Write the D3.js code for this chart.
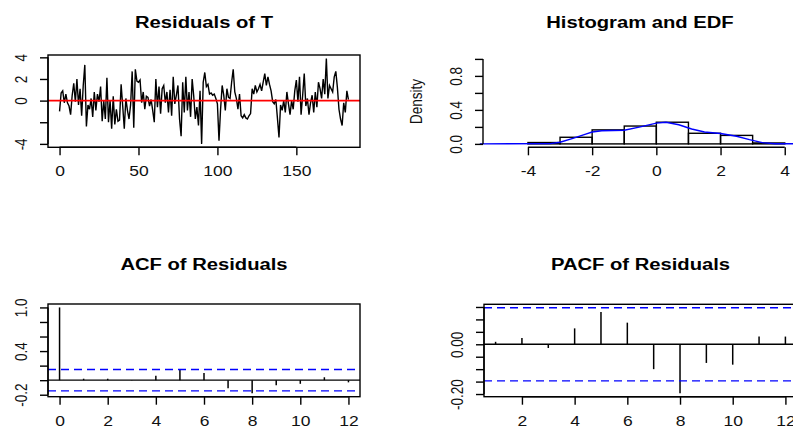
<!DOCTYPE html>
<html>
<head>
<meta charset="utf-8">
<script src="https://cdn.jsdelivr.net/npm/d3@7"></script>
<style>
  body { margin: 0; background: #fff; }
  svg { display: block; font-family: "Liberation Sans", Arial, sans-serif; }
</style>
</head>
<body>
<div id="chart"></div>
<script>
// residuals of T (index 0..183)
var residuals = [
  -1.0, 0.7, 0.9, -0.2, 0.6, -0.2, -0.5, -1.3, 0.5, 1.6,
  -0.1, 2.0, -0.4, 1.1, -1.4, 1.4, 3.3, -2.4, -0.4, -0.8,
  0.2, -1.5, 0.8, -0.9, 0.6, -0.1, 1.3, -1.9, 0.0, -1.7,
  2.1, -2.0, 0.0, -2.6, 0.4, -2.2, -0.8, -1.9, -1.8, 1.5,
  -0.5, -2.6, 0.2, -0.9, -1.7, -0.4, 2.7, -2.5, 2.9, 1.8,
  1.7, 1.9, -0.2, 0.8, -0.8, 0.4, 0.3, -0.5, 0.1, -0.9,
  -2.0, 2.0, -0.6, 1.3, -1.2, 1.1, 1.4, -0.2, 0.8, -1.1,
  1.0, -1.4, 2.2, -0.3, 0.5, 1.4, -1.7, -3.3, 1.7, -1.1,
  2.2, -0.9, 0.8, -1.5, 2.0, 0.4, -1.7, -0.6, -2.3, 0.9,
  -4.0, 1.7, 2.6, 1.3, 1.5, 0.6, 0.7, 0.5, 0.6, 0.2,
  -0.3, -3.7, -0.8, 1.4, 0.5, -0.9, 1.1, 0.3, 0.2, 1.7,
  2.9, 0.8, 0.2, -0.8, 0.6, -1.4, -1.6, -1.3, -1.6, -1.7,
  -1.4, -1.2, 1.1, 0.6, 1.4, 0.8, 1.1, 1.5, 0.9, 1.7,
  2.5, 1.4, 2.2, 1.5, 0.9, -0.1, -0.3, 0.1, -1.6, -3.4,
  -0.4, -0.9, 0.0, -1.1, 0.8, -0.3, -1.3, 0.0, -0.8, 0.9,
  1.9, -0.1, 2.2, -1.3, 0.5, 2.5, -0.5, 0.2, -1.3, -0.2,
  0.5, -1.1, 0.8, -0.6, 1.7, 1.1, 0.2, 2.0, 0.6, 3.9,
  0.2, 1.4, 1.1, 0.8, 2.2, 2.7, 1.2, -0.8, -1.7, -2.3,
  -0.2, -1.1, 0.9, 0.1
];
var resXTicks = [0, 50, 100, 150];
var resYTicks = [-4, -2, 0, 2, 4];
var resYLabels = ["-4", "", "0", "2", "4"];

// histogram (density scale) and smoothed density curve
var histBreaks = [-4, -3, -2, -1, 0, 1, 2, 3, 4];
var histDensity = [0.016, 0.078, 0.165, 0.21, 0.255, 0.125, 0.10, 0.011];
var densX = [-5.5, -3.3, -3.0, -2.6, -2.2, -2.0, -1.7, -1.0, -0.5, 0.0, 0.3, 0.7, 1.1, 1.5, 2.0, 2.5, 2.9, 3.3, 3.7, 4.7];
var densY = [0, 0.003, 0.02, 0.065, 0.115, 0.14, 0.155, 0.16, 0.2, 0.245, 0.255, 0.225, 0.175, 0.14, 0.122, 0.09, 0.05, 0.015, 0.002, 0];
var histXTicks = [-4, -2, 0, 2, 4];
var histYTicks = [0, 0.2, 0.4, 0.6, 0.8, 1.0];
var histYLabels = ["0.0", "", "0.4", "", "0.8", ""];

// ACF / PACF
var acfLags = [0, 1, 2, 3, 4, 5, 6, 7, 8, 9, 10, 11, 12];
var acfValues = [1.0, 0.02, 0.02, 0.003, 0.06, 0.14, 0.10, -0.11, -0.18, -0.07, -0.05, 0.04, -0.03];
var acfXTicks = [0, 2, 4, 6, 8, 10, 12];
var acfYTicks = [-0.2, 0, 0.2, 0.4, 0.6, 0.8, 1.0];
var acfYLabels = ["-0.2", "", "", "0.4", "", "", "1.0"];

var pacfLags = [1, 2, 3, 4, 5, 6, 7, 8, 9, 10, 11, 12];
var pacfValues = [0.01, 0.025, -0.015, 0.064, 0.13, 0.087, -0.10, -0.197, -0.075, -0.082, 0.031, 0.031];
var pacfXTicks = [2, 4, 6, 8, 10, 12];
var pacfYTicks = [-0.2, -0.15, -0.1, -0.05, 0, 0.05, 0.1, 0.15];
var pacfYLabels = ["-0.20", "", "", "", "0.00", "", "", ""];

var confLimit = 0.147;

var W = 793, H = 430;
var SX = 1.25; // the picture is stretched sideways
var LW = 1.4;
var svg = d3.select("#chart").append("svg").attr("width", W).attr("height", H);
svg.append("rect").attr("width", W).attr("height", H).attr("fill", "#fff");

function pad(ext) { var d = (ext[1] - ext[0]) * 0.04; return [ext[0] - d, ext[1] + d]; }

function title(x, y, str) {
  svg.append("text")
    .attr("transform", "translate(" + x + "," + y + ") scale(1.28,1)")
    .attr("text-anchor", "middle").attr("dominant-baseline", "central")
    .style("font-size", "15.8px").style("font-weight", "bold").attr("fill", "#000")
    .text(str);
}

function bottomAxis(scale, ticks, labels, y) {
  var a = svg.append("g").attr("transform", "translate(0," + y + ")")
    .call(d3.axisBottom(scale).tickValues(ticks).tickSize(8).tickFormat(function(d, i) { return labels[i]; }));
  a.select(".domain").remove();
  a.selectAll("line").attr("stroke", "#000").attr("stroke-width", LW);
  a.append("line").attr("x1", scale(ticks[0])).attr("x2", scale(ticks[ticks.length - 1]))
    .attr("stroke", "#000").attr("stroke-width", LW);
  a.selectAll("text").attr("y", null).attr("dy", null)
    .attr("transform", "translate(0,24) scale(" + SX + ",1)")
    .attr("dominant-baseline", "central").attr("fill", "#111")
    .style("font-size", "14px").style("font-family", "Liberation Sans, Arial, sans-serif");
}

function leftAxis(scale, ticks, labels, x) {
  var a = svg.append("g").attr("transform", "translate(" + x + ",0)")
    .call(d3.axisLeft(scale).tickValues(ticks).tickSize(8).tickFormat(function(d, i) { return labels[i]; }));
  a.select(".domain").remove();
  a.selectAll("line").attr("stroke", "#000").attr("stroke-width", LW);
  a.append("line").attr("y1", scale(ticks[0])).attr("y2", scale(ticks[ticks.length - 1]))
    .attr("stroke", "#000").attr("stroke-width", LW);
  a.selectAll("text").attr("x", null).attr("dy", null)
    .attr("transform", "translate(-27,0) scale(" + SX + ",1) rotate(-90)")
    .attr("text-anchor", "middle").attr("dominant-baseline", "central").attr("fill", "#111")
    .style("font-size", "13.5px").style("font-family", "Liberation Sans, Arial, sans-serif");
}

function box(b) {
  svg.append("rect").attr("x", b.l).attr("y", b.t).attr("width", b.r - b.l).attr("height", b.b - b.t)
    .attr("fill", "none").attr("stroke", "#000").attr("stroke-width", LW);
}

// ---- Residuals of T
var resBox = {l: 48, r: 360, t: 55, b: 147.3};
var xRes = d3.scaleLinear().domain(pad([0, residuals.length - 1])).range([resBox.l, resBox.r]);
var yRes = d3.scaleLinear().domain(pad(d3.extent(residuals))).range([resBox.b, resBox.t]);
svg.append("path").datum(residuals)
  .attr("d", d3.line().x(function(d, i) { return xRes(i); }).y(function(d) { return yRes(d); }))
  .attr("fill", "none").attr("stroke", "#000").attr("stroke-width", 1.4);
svg.append("line").attr("x1", resBox.l).attr("x2", resBox.r).attr("y1", yRes(0)).attr("y2", yRes(0))
  .attr("stroke", "#ff0000").attr("stroke-width", 1.6);
box(resBox);
bottomAxis(xRes, resXTicks, resXTicks.map(String), resBox.b);
leftAxis(yRes, resYTicks, resYLabels, resBox.l);
title((resBox.l + resBox.r) / 2, 22.7, "Residuals of T");

// ---- Histogram and EDF
var histBox = {l: 483, r: 804, t: 55.5, b: 147.3};
var xHist = d3.scaleLinear().domain([-5.4, 4.6]).range([histBox.l, histBox.r]);
var yHist = d3.scaleLinear().domain([-0.04, 1.04]).range([histBox.b, histBox.t]);
svg.append("g").selectAll("rect").data(histDensity).enter().append("rect")
  .attr("x", function(d, i) { return xHist(histBreaks[i]); })
  .attr("width", function(d, i) { return xHist(histBreaks[i + 1]) - xHist(histBreaks[i]); })
  .attr("y", function(d) { return yHist(d); })
  .attr("height", function(d) { return yHist(0) - yHist(d); })
  .attr("fill", "none").attr("stroke", "#000").attr("stroke-width", LW);
svg.append("path").datum(densX.map(function(x, i) { return [x, densY[i]]; }))
  .attr("d", d3.line().x(function(d) { return xHist(d[0]); }).y(function(d) { return yHist(d[1]); }))
  .attr("fill", "none").attr("stroke", "#0000ff").attr("stroke-width", 1.4);
bottomAxis(xHist, histXTicks, histXTicks.map(String), histBox.b);
leftAxis(yHist, histYTicks, histYLabels, histBox.l);
svg.append("text")
  .attr("transform", "translate(416," + yHist(0.5) + ") scale(" + SX + ",1) rotate(-90)")
  .attr("text-anchor", "middle").attr("dominant-baseline", "central")
  .style("font-size", "13.5px").attr("fill", "#111").text("Density");
title(640, 22.7, "Histogram and EDF");

// ---- ACF / PACF
function corrPanel(b, lags, vals, xDomain, xTicks, yTicks, yLabels, name) {
  var x = d3.scaleLinear().domain(pad(xDomain)).range([b.l, b.r]);
  var ext = d3.extent(vals.concat([-confLimit, confLimit]));
  var y = d3.scaleLinear().domain(pad(ext)).range([b.b, b.t]);
  svg.append("line").attr("x1", b.l).attr("x2", b.r).attr("y1", y(0)).attr("y2", y(0))
    .attr("stroke", "#000").attr("stroke-width", LW);
  svg.append("g").selectAll("line").data(vals).enter().append("line")
    .attr("x1", function(d, i) { return x(lags[i]); }).attr("x2", function(d, i) { return x(lags[i]); })
    .attr("y1", y(0)).attr("y2", function(d) { return y(d); })
    .attr("stroke", "#000").attr("stroke-width", 1.5);
  [confLimit, -confLimit].forEach(function(c) {
    svg.append("line").attr("x1", b.l).attr("x2", b.r).attr("y1", y(c)).attr("y2", y(c))
      .attr("stroke", "#0000ff").attr("stroke-width", 1.4).attr("stroke-dasharray", "8,5");
  });
  box(b);
  bottomAxis(x, xTicks, xTicks.map(String), b.b);
  leftAxis(y, yTicks, yLabels, b.l);
  title((b.l + b.r) / 2, 264.5, name);
}

corrPanel({l: 48, r: 360, t: 304, b: 396.7}, acfLags, acfValues, [0, 12],
  acfXTicks, acfYTicks, acfYLabels, "ACF of Residuals");
corrPanel({l: 484, r: 797, t: 304.3, b: 396.7}, pacfLags, pacfValues, [1, 12],
  pacfXTicks, pacfYTicks, pacfYLabels, "PACF of Residuals");
</script>
</body>
</html>
